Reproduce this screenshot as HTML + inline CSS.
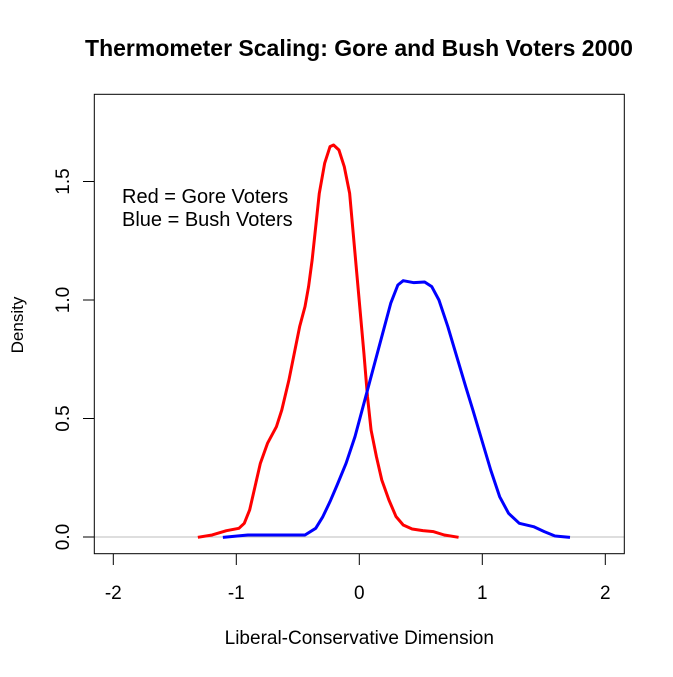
<!DOCTYPE html>
<html><head><style>body{margin:0;background:#fff}</style></head><body>
<svg width="673" height="672" xmlns="http://www.w3.org/2000/svg" font-family="Liberation Sans, sans-serif">
<rect width="673" height="672" fill="#fff"/>
<text x="359" y="56" text-anchor="middle" font-size="23" font-weight="bold">Thermometer Scaling: Gore and Bush Voters 2000</text>
<line x1="94.3" y1="537" x2="624.3" y2="537" stroke="#bebebe" stroke-width="1"/>
<g transform="translate(80,80) scale(0.35714,0.33333)" fill="none" stroke-width="3" stroke-linejoin="round">
<polyline vector-effect="non-scaling-stroke" stroke="#ff0000" points="330,1372 370,1365 410,1352 445,1345 460,1330 475,1290 490,1220 505,1150 525,1090 550,1040 565,990 585,900 600,820 615,740 630,680 640,620 650,540 660,440 670,340 685,250 700,200 710,195 725,210 740,260 755,340 765,460 775,580 785,700 795,820 805,950 815,1050 830,1130 845,1200 865,1260 885,1310 905,1335 930,1347 960,1352 990,1355 1020,1365 1060,1372"/>
<polyline vector-effect="non-scaling-stroke" stroke="#0000ff" points="400,1372 470,1365 630,1365 660,1345 680,1310 700,1265 720,1215 745,1150 770,1070 790,990 810,910 830,830 850,750 870,670 890,615 905,602 935,608 965,606 985,620 1005,660 1030,740 1055,830 1080,920 1100,990 1125,1080 1150,1170 1175,1250 1200,1300 1230,1330 1270,1340 1300,1355 1330,1368 1372,1372"/>
</g>
<rect x="94.3" y="94.3" width="530" height="459.4" fill="none" stroke="#000" stroke-width="1"/>
<g stroke="#000" stroke-width="1">
<line x1="113.3" y1="553.7" x2="113.3" y2="565"/>
<line x1="236.3" y1="553.7" x2="236.3" y2="565"/>
<line x1="359.3" y1="553.7" x2="359.3" y2="565"/>
<line x1="482.3" y1="553.7" x2="482.3" y2="565"/>
<line x1="605.3" y1="553.7" x2="605.3" y2="565"/>
<line x1="83" y1="537" x2="94.3" y2="537"/>
<line x1="83" y1="418.5" x2="94.3" y2="418.5"/>
<line x1="83" y1="300" x2="94.3" y2="300"/>
<line x1="83" y1="181.5" x2="94.3" y2="181.5"/>
</g>
<g font-size="19" text-anchor="middle">
<text x="113.3" y="599">-2</text>
<text x="236.3" y="599">-1</text>
<text x="359.3" y="599">0</text>
<text x="482.3" y="599">1</text>
<text x="605.3" y="599">2</text>
<text x="359.3" y="644">Liberal-Conservative Dimension</text>
<text transform="translate(69,537) rotate(-90)">0.0</text>
<text transform="translate(69,418.5) rotate(-90)">0.5</text>
<text transform="translate(69,300) rotate(-90)">1.0</text>
<text transform="translate(69,181.5) rotate(-90)">1.5</text>
<text transform="translate(23,325) rotate(-90)" font-size="17">Density</text>
</g>
<text x="122" y="203" font-size="20">Red = Gore Voters</text>
<text x="122" y="226" font-size="20">Blue = Bush Voters</text>
</svg>
</body></html>
